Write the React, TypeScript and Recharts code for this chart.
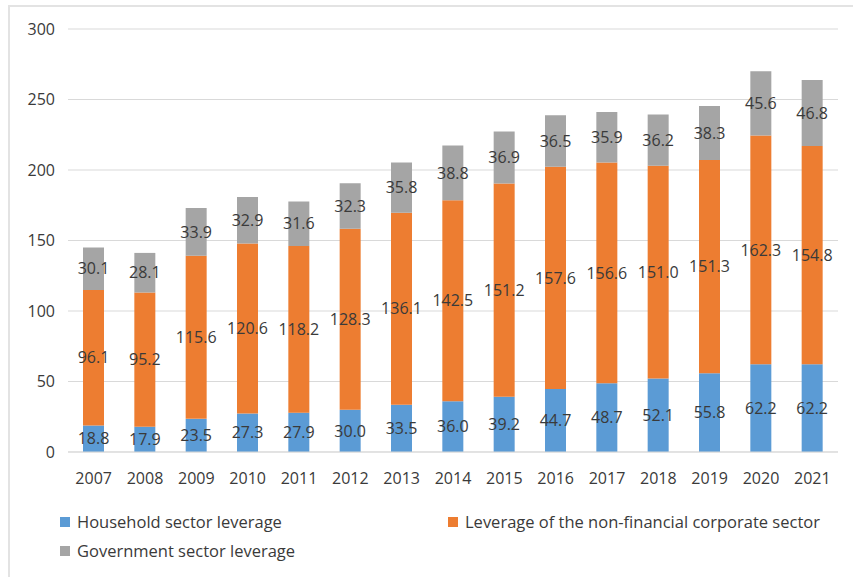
import React from "react";
import { BarChart, Bar, XAxis, YAxis, CartesianGrid, LabelList, Legend } from "recharts";

const years = ["2007","2008","2009","2010","2011","2012","2013","2014","2015","2016","2017","2018","2019","2020","2021"];
const household = [18.8,17.9,23.5,27.3,27.9,30.0,33.5,36.0,39.2,44.7,48.7,52.1,55.8,62.2,62.2];
const corporate = [96.1,95.2,115.6,120.6,118.2,128.3,136.1,142.5,151.2,157.6,156.6,151.0,151.3,162.3,154.8];
const government = [30.1,28.1,33.9,32.9,31.6,32.3,35.8,38.8,36.9,36.5,35.9,36.2,38.3,45.6,46.8];
const yTicks = [0,50,100,150,200,250,300];

const seriesInfo = [
  { key: "household", name: "Household sector leverage", color: "#5B9BD5" },
  { key: "corporate", name: "Leverage of the non-financial corporate sector", color: "#ED7D31" },
  { key: "government", name: "Government sector leverage", color: "#A5A5A5" },
];

const data = years.map((y, i) => ({
  year: y,
  household: household[i],
  corporate: corporate[i],
  government: government[i],
}));

const FONT = "'Open Sans', 'Noto Sans', sans-serif";
const fmt = (v: any) => Number(v).toFixed(1);

const LegendContent = () => (
  <div style={{ position: "relative", width: 853, height: 60, fontFamily: FONT, fontSize: 16.5, color: "#3a3a3a" }}>
    {seriesInfo.map((s, i) => {
      const left = i === 1 ? 448 : 60;
      const top = i === 2 ? 29 : 0;
      return (
        <div key={s.key} style={{ position: "absolute", left, top, display: "flex", alignItems: "center", whiteSpace: "nowrap" }}>
          <span style={{ display: "inline-block", width: 10, height: 10, background: s.color, marginRight: 7 }} />
          <span>{s.name}</span>
        </div>
      );
    })}
  </div>
);

export default function App() {
  return (
    <div style={{ position: "absolute", left: 0, top: 0, width: 853, height: 577, background: "#fff", overflow: "hidden" }}>
      <div style={{ position: "absolute", left: 8, top: 5, width: 860, height: 600, borderLeft: "2px solid #e3e3e3", borderTop: "2px solid #e3e3e3" }} />
      <BarChart width={853} height={577} data={data} margin={{ top: 29, right: 15, left: 8, bottom: 35 }} barSize={21}>
        <CartesianGrid vertical={false} stroke="#d9d9d9" strokeWidth={1} />
        <XAxis dataKey="year" tickLine={false} axisLine={{ stroke: "#d9d9d9" }} tick={{ fill: "#3a3a3a", fontSize: 16, fontFamily: FONT }} tickMargin={15} height={30} />
        <YAxis width={60} domain={[0, 300]} ticks={yTicks} tickLine={false} axisLine={false} tick={{ fill: "#3a3a3a", fontSize: 16, fontFamily: FONT }} tickMargin={7} />
        <Legend verticalAlign="bottom" height={60} content={<LegendContent />} wrapperStyle={{ left: 0, top: 510, width: 853 }} />
        {seriesInfo.map((s) => (
          <Bar key={s.key} dataKey={s.key} name={s.name} stackId="a" fill={s.color} isAnimationActive={false}>
            <LabelList dataKey={s.key} position="center" formatter={fmt} fill="#3a3a3a" fontSize={16} fontFamily={FONT} />
          </Bar>
        ))}
      </BarChart>
    </div>
  );
}
